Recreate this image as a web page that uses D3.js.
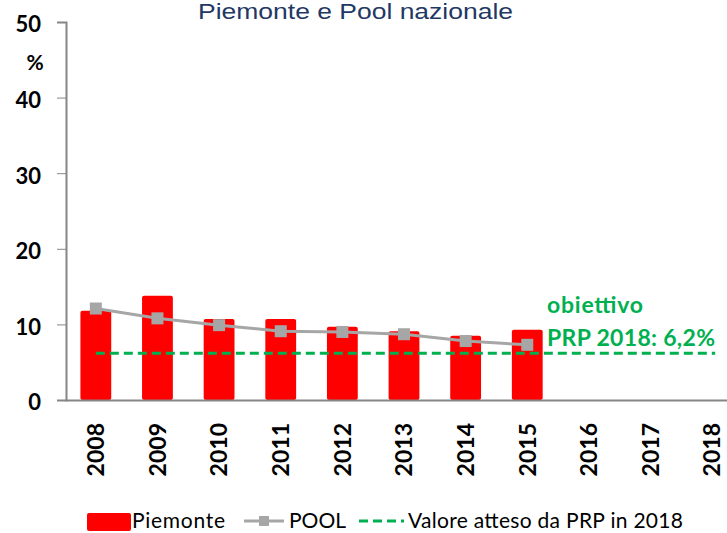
<!DOCTYPE html>
<html>
<head>
<meta charset="utf-8">
<script src="https://cdn.jsdelivr.net/npm/d3@7"></script>
<style>
  body { margin: 0; background: #fff; }
  svg { display: block; }
</style>
</head>
<body>
<svg id="chart" width="727" height="533"></svg>
<script>
// data
const years = ['2008', '2009', '2010', '2011', '2012', '2013', '2014', '2015', '2016', '2017', '2018'];
const piemonte = [11.8, 13.8, 10.7, 10.7, 9.7, 9.1, 8.5, 9.3];
const pool = [12.1, 10.8, 9.9, 9.1, 9.0, 8.7, 7.8, 7.3];
const target = 6.2;
const yTicks = [0, 10, 20, 30, 40, 50];

const svg = d3.select('#chart');
const labelFont = 'Lato, "Open Sans", sans-serif';

const x = d3.scaleBand()
  .domain(years)
  .range([65, 743])
  .paddingInner(0.5)
  .paddingOuter(0.25);

const y = d3.scaleLinear()
  .domain([0, 50])
  .range([400, 22]);

// title
svg.append('text')
  .attr('x', 198)
  .attr('y', 19)
  .attr('textLength', 315)
  .attr('lengthAdjust', 'spacingAndGlyphs')
  .style('font-family', '"Liberation Sans", Arial, sans-serif')
  .style('font-size', '22px')
  .style('fill', '#1F3864')
  .text('Piemonte e Pool nazionale');

// y axis
const yAxis = svg.append('g')
  .attr('transform', 'translate(66,0)')
  .call(d3.axisLeft(y).tickValues(yTicks).tickSize(9).tickPadding(16));
yAxis.select('.domain').attr('stroke', '#868686').attr('stroke-width', 2);
yAxis.selectAll('.tick line').attr('stroke', '#868686');
yAxis.selectAll('.tick text')
  .attr('dy', '0.45em')
  .style('font-family', labelFont)
  .style('font-weight', 'bold')
  .style('font-size', '22px')
  .style('fill', '#000');

svg.append('text')
  .attr('x', 35)
  .attr('y', 70)
  .attr('text-anchor', 'middle')
  .style('font-family', labelFont)
  .style('font-weight', 'bold')
  .style('font-size', '21px')
  .text('%');

// bars
svg.append('g').selectAll('rect')
  .data(piemonte)
  .enter()
  .append('rect')
  .attr('x', (d, i) => x(years[i]))
  .attr('y', d => y(d))
  .attr('width', x.bandwidth())
  .attr('height', d => y(0) - y(d))
  .attr('rx', 2)
  .attr('fill', '#FF0000');

// x axis
const xAxis = svg.append('g')
  .attr('transform', `translate(0,${y(0)})`)
  .call(d3.axisBottom(x).tickSize(0).tickPadding(0));
xAxis.select('.domain').attr('stroke', '#868686').attr('stroke-width', 2);
xAxis.selectAll('.tick text')
  .attr('transform', 'rotate(-90)')
  .attr('x', -23)
  .attr('y', 0)
  .attr('dy', '0.36em')
  .attr('text-anchor', 'end')
  .style('font-family', labelFont)
  .style('font-weight', 'bold')
  .style('font-size', '23px')
  .style('fill', '#000');

// target dashed line
const cx = d => x(d) + x.bandwidth() / 2;
svg.append('line')
  .attr('x1', cx('2008'))
  .attr('x2', cx('2018') + 3)
  .attr('y1', y(target))
  .attr('y2', y(target))
  .attr('stroke', '#00B050')
  .attr('stroke-width', 3)
  .attr('stroke-dasharray', '9,5');

// pool line
const line = d3.line()
  .x((d, i) => cx(years[i]))
  .y(d => y(d));

svg.append('path')
  .datum(pool)
  .attr('d', line)
  .attr('fill', 'none')
  .attr('stroke', '#A6A6A6')
  .attr('stroke-width', 3);

svg.append('g').selectAll('rect')
  .data(pool)
  .enter()
  .append('rect')
  .attr('x', (d, i) => cx(years[i]) - 6)
  .attr('y', d => y(d) - 6)
  .attr('width', 12)
  .attr('height', 12)
  .attr('fill', '#A6A6A6');

// annotation
const note = svg.append('text')
  .style('font-family', labelFont)
  .style('font-weight', 'bold')
  .style('font-size', '23px')
  .style('fill', '#00B050');
note.append('tspan').attr('x', 547).attr('y', 313).attr('textLength', 96).text('obiettivo');
note.append('tspan').attr('x', 547).attr('y', 346).attr('textLength', 168).text('PRP 2018: 6,2%');

// legend
const legend = svg.append('g').attr('transform', 'translate(0,520)')
  .style('font-family', labelFont)
  .style('font-size', '21px');
legend.append('rect').attr('x', 87).attr('y', -7).attr('width', 44).attr('height', 18).attr('rx', 2).attr('fill', '#FF0000');
legend.append('text').attr('x', 132).attr('y', 8).attr('textLength', 93).text('Piemonte');
legend.append('line').attr('x1', 244).attr('x2', 284).attr('y1', 1).attr('y2', 1).attr('stroke', '#A6A6A6').attr('stroke-width', 3);
legend.append('rect').attr('x', 259).attr('y', -4).attr('width', 10).attr('height', 10).attr('fill', '#A6A6A6');
legend.append('text').attr('x', 289).attr('y', 8).text('POOL');
legend.append('line').attr('x1', 359).attr('x2', 404).attr('y1', 1).attr('y2', 1).attr('stroke', '#00B050').attr('stroke-width', 3).attr('stroke-dasharray', '9,5');
legend.append('text').attr('x', 408).attr('y', 8).attr('textLength', 275).text('Valore atteso da PRP in 2018');
</script>
</body>
</html>
